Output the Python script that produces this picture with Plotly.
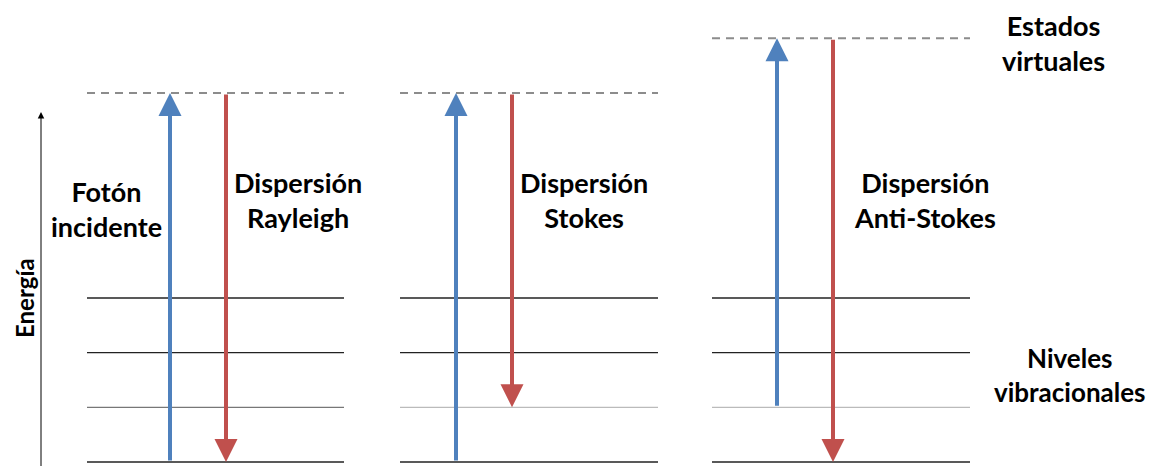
import plotly.graph_objects as go

# vibrational levels (energy units) and virtual states per panel
vib_levels = [0, 1, 2, 3]
virtual_levels = [6.75, 6.75, 7.75]
# start level of incident photon, end level of scattered photon
incident_from = [0, 0, 1]
scattered_to = [0, 1, 0]
panel_labels = ["Dispersión<br>Rayleigh", "Dispersión<br>Stokes", "Dispersión<br>Anti-Stokes"]

# layout constants (pixel-like x positions)
panel_x0 = [87, 400, 712]
panel_x1 = [344, 658, 970]
blue_x = [170, 456, 777]
red_x = [226, 512, 833]
label_x = [298, 584, 925]

BLUE = "#4F81BD"
RED = "#C0504D"
FONT = dict(family="Lato", size=27, color="black", weight="bold")

fig = go.Figure()

# vibrational level lines
for p in range(3):
    for lv in vib_levels:
        col = "#222222"
        if lv == 1:
            col = "#777777" if p == 0 else "#bbbbbb"
        fig.add_trace(go.Scatter(x=[panel_x0[p], panel_x1[p]], y=[lv, lv], mode="lines",
                                 line=dict(color=col, width=1.4), hoverinfo="skip"))
    # virtual state dashed line
    fig.add_trace(go.Scatter(x=[panel_x0[p], panel_x1[p]], y=[virtual_levels[p]] * 2, mode="lines",
                             line=dict(color="#8c8c8c", width=2, dash="8px,6px"), hoverinfo="skip"))

# arrows
for p in range(3):
    fig.add_annotation(x=blue_x[p], y=virtual_levels[p], ax=blue_x[p], ay=incident_from[p],
                       xref="x", yref="y", axref="x", ayref="y", text="", showarrow=True,
                       arrowhead=2, arrowwidth=4, arrowsize=1.15, arrowcolor=BLUE, standoff=0)
    fig.add_annotation(x=red_x[p], y=scattered_to[p], ax=red_x[p], ay=virtual_levels[p],
                       xref="x", yref="y", axref="x", ayref="y", text="", showarrow=True,
                       arrowhead=2, arrowwidth=4, arrowsize=1.15, arrowcolor=RED, standoff=0)
    fig.add_annotation(x=label_x[p], y=4.79, text=panel_labels[p], showarrow=False, font=FONT)

fig.add_annotation(x=106, y=4.63, text="Fotón<br>incidente", showarrow=False, font=FONT)
fig.add_annotation(x=1053, y=7.66, text="Estados<br>virtuales", showarrow=False, font=FONT)
fig.add_annotation(x=1070, y=1.59, text="Niveles<br>vibracionales", showarrow=False,
                   font=dict(FONT, size=26))

# energy axis
fig.add_annotation(x=41, y=6.4, ax=41, ay=-0.2, xref="x", yref="y", axref="x", ayref="y",
                   text="", showarrow=True, arrowhead=2, arrowwidth=1, arrowsize=1.3,
                   arrowcolor="black", standoff=0)
fig.add_annotation(x=25, y=3.0, text="Energía", textangle=-90, showarrow=False,
                   borderpad=0, font=dict(FONT, size=24))

# page body has an 8px margin, so the figure is shrunk and the ranges shifted to compensate
fig.update_layout(width=1148, height=458, margin=dict(l=0, r=0, t=0, b=0),
                  plot_bgcolor="white", paper_bgcolor="white", showlegend=False)
fig.update_xaxes(range=[8, 1156], visible=False)
fig.update_yaxes(range=[-0.073, 8.304], visible=False)

fig.write_html("out.html")
